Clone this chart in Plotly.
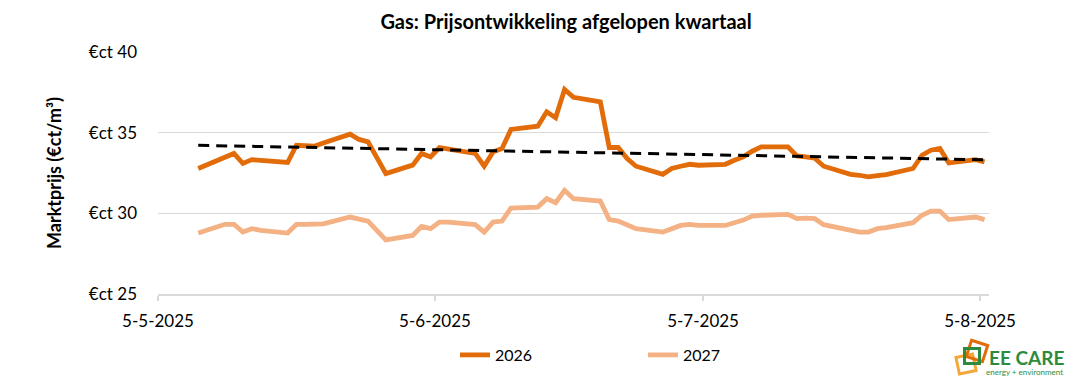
import numpy as np
import pandas as pd
import plotly.graph_objects as go

# ---- data ----
dates = ["2025-05-09", "2025-05-12", "2025-05-13", "2025-05-14", "2025-05-15", "2025-05-16",
         "2025-05-19", "2025-05-20", "2025-05-21", "2025-05-22", "2025-05-23",
         "2025-05-26", "2025-05-27", "2025-05-28", "2025-05-30",
         "2025-06-02", "2025-06-03", "2025-06-04", "2025-06-05", "2025-06-06",
         "2025-06-09", "2025-06-10", "2025-06-11", "2025-06-12", "2025-06-13",
         "2025-06-16", "2025-06-17", "2025-06-18", "2025-06-19", "2025-06-20",
         "2025-06-23", "2025-06-24", "2025-06-25", "2025-06-26", "2025-06-27",
         "2025-06-30", "2025-07-01", "2025-07-02", "2025-07-03", "2025-07-04",
         "2025-07-07", "2025-07-08", "2025-07-09", "2025-07-10", "2025-07-11",
         "2025-07-14", "2025-07-15", "2025-07-16", "2025-07-17", "2025-07-18",
         "2025-07-21", "2025-07-22", "2025-07-23", "2025-07-24", "2025-07-25",
         "2025-07-28", "2025-07-29", "2025-07-30", "2025-07-31", "2025-08-01",
         "2025-08-04", "2025-08-05"]

prices_2026 = [32.78, 33.47, 33.71, 33.09, 33.33, 33.28,
               33.15, 34.22, 34.19, 34.16, 34.36,
               34.91, 34.58, 34.43, 32.46,
               32.99, 33.71, 33.50, 34.08, 33.99,
               33.71, 32.92, 33.81, 34.02, 35.20,
               35.40, 36.29, 35.92, 37.68, 37.19,
               36.91, 34.08, 34.08, 33.40, 32.92,
               32.42, 32.78, 32.92, 33.04, 32.98,
               33.04, 33.29, 33.50, 33.85, 34.12,
               34.12, 33.56, 33.50, 33.42, 32.92,
               32.42, 32.36, 32.26, 32.33, 32.40,
               32.78, 33.60, 33.91, 34.02, 33.12,
               33.33, 33.19]

prices_2027 = [28.78, 29.32, 29.32, 28.84, 29.05, 28.95,
               28.78, 29.32, 29.32, 29.32, 29.35,
               29.77, 29.65, 29.52, 28.35,
               28.63, 29.19, 29.05, 29.46, 29.45,
               29.30, 28.84, 29.46, 29.52, 30.33,
               30.39, 30.91, 30.66, 31.43, 30.91,
               30.76, 29.61, 29.52, 29.30, 29.05,
               28.84, 29.05, 29.25, 29.32, 29.25,
               29.25, 29.42, 29.58, 29.83, 29.88,
               29.94, 29.67, 29.70, 29.67, 29.30,
               28.90, 28.84, 28.84, 29.05, 29.12,
               29.42, 29.88, 30.14, 30.14, 29.61,
               29.77, 29.61]

series_names = ["2026", "2027"]
tick_dates = ["2025-05-05", "2025-06-05", "2025-07-05", "2025-08-05"]
tick_labels = ["5-5-2025", "5-6-2025", "5-7-2025", "5-8-2025"]
y_ticks = [25, 30, 35, 40]
y_tick_labels = ["€ct 25", "€ct 30", "€ct 35", "€ct 40"]

# linear trendline for 2026
x_dt = pd.to_datetime(dates)
x_num = (x_dt - x_dt[0]).days.values.astype(float)
coef = np.polyfit(x_num, np.array(prices_2026), 1)
trend = np.polyval(coef, x_num)

FONT = "Lato, 'Open Sans', sans-serif"
C26 = "#E36C0A"
C27 = "#F4B183"
GREEN = "#2E8B3E"
DAY = 86400000

fig = go.Figure()
fig.add_trace(go.Scatter(x=dates, y=prices_2027, name=series_names[1], mode="lines", legendrank=2,
                         line=dict(color=C27, width=4.8), xperiod=DAY, xperiodalignment="middle"))
fig.add_trace(go.Scatter(x=dates, y=prices_2026, name=series_names[0], mode="lines", legendrank=1,
                         line=dict(color=C26, width=4.8), xperiod=DAY, xperiodalignment="middle"))
fig.add_trace(go.Scatter(x=dates, y=trend, name="trend", mode="lines", showlegend=False,
                         line=dict(color="black", width=3, dash="11px,7px"),
                         xperiod=DAY, xperiodalignment="middle"))

L, R, T, B = 158, 989, 52, 294
W, H = 1071, 384


def px(x):
    return (x - L) / (R - L)


def py(y):
    return (B - y) / (B - T)


def sq(cx, cy, s, ang, color):
    a = np.deg2rad(ang)
    pts = []
    for dx, dy in [(-s, -s), (s, -s), (s, s), (-s, s)]:
        xr = cx + dx * np.cos(a) - dy * np.sin(a)
        yr = cy + dx * np.sin(a) + dy * np.cos(a)
        pts.append((px(xr), py(yr)))
    path = "M " + " L ".join(f"{p[0]:.5f},{p[1]:.5f}" for p in pts) + " Z"
    return dict(type="path", xref="paper", yref="paper", path=path,
                line=dict(color=color, width=3), fillcolor="rgba(0,0,0,0)")


shapes = [sq(966, 364, 8.5, -12, "#F2A83A"),
          sq(977, 351, 8.5, 18, C26),
          sq(972, 356, 7.5, 0, GREEN)]

fig.update_layout(
    width=W, height=H,
    margin=dict(l=L, r=W - R, t=T, b=H - B, autoexpand=False),
    paper_bgcolor="white", plot_bgcolor="white",
    font=dict(family=FONT, color="#000000", size=17),
    title=dict(text="<b>Gas: Prijsontwikkeling afgelopen kwartaal</b>", x=0.491, xanchor="center",
               xref="paper", y=1 - 22 / H, yanchor="middle",
               font=dict(size=20, family=FONT, color="#000")),
    showlegend=True,
    legend=dict(orientation="h", x=px(455), xanchor="left", y=py(355), yanchor="middle",
                font=dict(size=16, family=FONT), traceorder="normal",
                entrywidth=143, entrywidthmode="pixels", tracegroupgap=0),
    xaxis=dict(type="date", range=["2025-05-05", "2025-08-06"],
               tickvals=tick_dates, ticktext=tick_labels,
               showgrid=False, showline=True, linecolor="#D9D9D9", linewidth=1.5,
               ticks="outside", tickcolor="#D9D9D9", ticklen=5, tickwidth=1.5,
               ticklabelstandoff=6, tickfont=dict(size=17), zeroline=False),
    yaxis=dict(range=[25, 40], tickvals=y_ticks, ticktext=y_tick_labels,
               showgrid=True, gridcolor="#D9D9D9", gridwidth=1,
               showline=False, zeroline=False, ticks="", ticklabelstandoff=20,
               tickfont=dict(size=17),
               title=dict(text="<b>Marktprijs (€ct/m³)</b>", font=dict(size=18), standoff=22)),
    shapes=shapes,
    annotations=[
        dict(text="<b>EE CARE</b>", xref="paper", yref="paper", x=px(987), y=py(357),
             xanchor="left", yanchor="middle", showarrow=False,
             font=dict(size=19, color=GREEN, family=FONT)),
        dict(text="energy + environment", xref="paper", yref="paper", x=px(984), y=py(372),
             xanchor="left", yanchor="middle", showarrow=False,
             font=dict(size=8, color=GREEN, family=FONT)),
    ],
)

fig.write_html("out.html", config={"displayModeBar": False},
               post_script="document.body.style.margin='0px';")
